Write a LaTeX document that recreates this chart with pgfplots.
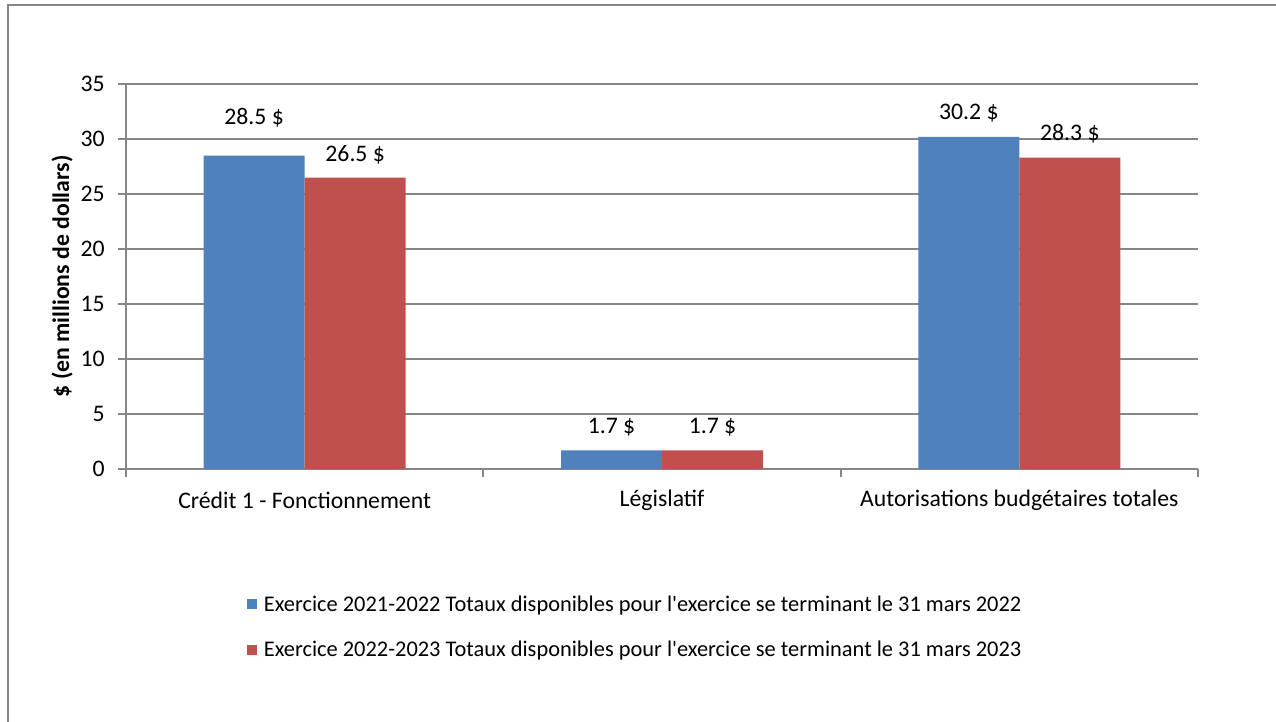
\documentclass[border=0pt]{standalone}
\usepackage{fontspec}
\setmainfont{Carlito}
\usepackage{pgfplots}
\pgfplotsset{compat=1.18}
\usepackage{pgfplotstable}
\definecolor{sblue}{RGB}{79,129,189}
\definecolor{sred}{RGB}{192,80,77}
\definecolor{gridgray}{RGB}{134,134,134}

\pgfplotstableread{
x y off lab
0 28.5 28.1 28.5
1 1.7 17.3 1.7
2 30.2 18 30.2
}\bluedata

\pgfplotstableread{
x y off lab
0 26.5 16.9 26.5
1 1.7 17.3 1.7
2 28.3 18 28.3
}\reddata

\begin{document}
\begin{tikzpicture}[font=\fontsize{17.8}{21}\selectfont]
\useasboundingbox (0,0) rectangle (957pt,-540.75pt);
\draw[gridgray, line width=1.5pt] (6pt,-560pt) -- (6pt,-3.75pt) -- (970pt,-3.75pt);
\begin{axis}[
  at={(94.5pt,-351.75pt)}, anchor=south west,
  scale only axis, width=804pt, height=288.75pt,
  xmin=-0.5, xmax=2.5, ymin=0, ymax=35,
  ybar=0pt, bar width=75.75pt,
  ytick={0,5,...,35},
  ymajorgrids, grid style={gridgray, line width=1.5pt},
  axis x line*=bottom, axis y line*=left,
  axis line style={gridgray, line width=1.5pt, -},
  tick style={gridgray, line width=1.5pt},
  tick align=outside, major tick length=6pt,
  xtick={-0.5,0.5,1.5,2.5}, xticklabels={},
  extra x ticks={0,1,2},
  extra x tick labels={Crédit 1 - Fonctionnement, Législatif, Autorisations budgétaires totales},
  extra x tick style={major tick length=0pt, grid=none,
    xticklabel style={anchor=center, yshift=-23.25pt}},
  /pgf/number format/assume math mode=true,
  tick label style={font=\fontsize{17.8}{21}\selectfont},
  yticklabel style={anchor=east, inner sep=0pt, xshift=-9.75pt},
  ylabel={\bfseries \$ (en millions de dollars)},
  every axis y label/.style={at={(axis description cs:-0.0597,0.5)}, rotate=90, anchor=center,
    font=\fontsize{17.8}{21}\selectfont},
  legend style={at={(axis description cs:0.1091,-0.314)}, anchor=north west,
    draw=none, fill=none, row sep=17pt, column sep=3pt, font=\fontsize{16.8}{20}\selectfont,
    nodes={inner sep=2pt}},
  legend cell align=left,
]
\addplot[fill=sblue, draw=none, point meta=explicit symbolic,
  nodes near coords={\pgfplotspointmeta~\$},
  visualization depends on={\thisrow{off} \as \loff},
  every node near coord/.append style={anchor=center, yshift=\loff pt, text=black,
    font=\fontsize{17.8}{21}\selectfont},
  legend image code/.code={\fill[sblue] (0pt,-3.75pt) rectangle (7.5pt,3.75pt);}]
  table[x=x, y=y, meta=lab]{\bluedata};
\addlegendentry{Exercice 2021-2022 Totaux disponibles pour l\textquotesingle exercice se terminant le 31 mars 2022}
\addplot[fill=sred, draw=none, point meta=explicit symbolic,
  nodes near coords={\pgfplotspointmeta~\$},
  visualization depends on={\thisrow{off} \as \loff},
  every node near coord/.append style={anchor=center, yshift=\loff pt, text=black,
    font=\fontsize{17.8}{21}\selectfont},
  legend image code/.code={\fill[sred] (0pt,-3.75pt) rectangle (7.5pt,3.75pt);}]
  table[x=x, y=y, meta=lab]{\reddata};
\addlegendentry{Exercice 2022-2023 Totaux disponibles pour l\textquotesingle exercice se terminant le 31 mars 2023}
\end{axis}
\end{tikzpicture}
\end{document}
